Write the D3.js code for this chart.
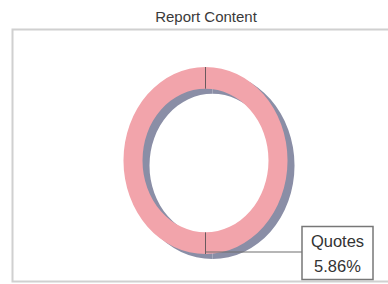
<!DOCTYPE html>
<html>
<head>
<meta charset="utf-8">
<script src="https://cdn.jsdelivr.net/npm/d3@7"></script>
<style>
  body { margin: 0; background: #fff; overflow: hidden; }
  svg { display: block; font-family: "Liberation Sans", Arial, sans-serif; }
</style>
</head>
<body>
<div id="chart"></div>
<script>
// slices as drawn in the picture (boundaries at 12 and 6 o'clock)
var sliceNames = ["Quotes", "Other"];
var sliceValues = [50, 50];
var labelLines = ["Quotes", "5.86%"];
var chartTitle = "Report Content";

var width = 388, height = 284;

var svg = d3.select("#chart").append("svg")
    .attr("width", width)
    .attr("height", height);

// title + frame (frame runs off the right edge)
svg.append("text")
    .attr("x", 206).attr("y", 22)
    .attr("text-anchor", "middle")
    .style("font-size", "15px")
    .style("fill", "#3a3a3a")
    .text(chartTitle);

svg.append("rect")
    .attr("x", 12.5).attr("y", 29.5)
    .attr("width", 400).attr("height", 252)
    .attr("fill", "none")
    .attr("stroke", "#d0d0d0")
    .attr("stroke-width", 2);

// ring geometry (ellipse: drawn as a circle then stretched vertically)
var cx = 205.5, cy = 160.5, rx = 82, ry = 93.5, thick = 19;
var yScale = ry / rx;

var pie = d3.pie().sort(null).value(function(d) { return d; });
var arcs = pie(sliceValues);
var arc = d3.arc().innerRadius(rx - thick).outerRadius(rx);

// depth / shadow
svg.append("g")
    .attr("transform", "translate(" + (cx + 7) + "," + (cy + 5) + ") scale(1," + yScale + ")")
  .selectAll("path")
  .data(arcs)
  .join("path")
    .attr("d", arc)
    .attr("fill", "#8a8ea6");

// front face
var front = svg.append("g")
    .attr("transform", "translate(" + cx + "," + cy + ") scale(1," + yScale + ")");

front.selectAll("path")
  .data(arcs)
  .join("path")
    .attr("d", arc)
    .attr("fill", "#f2a4ab");

// slice boundaries
front.selectAll("line")
  .data(arcs)
  .join("line")
    .attr("x1", function(d) { return Math.sin(d.startAngle) * (rx - thick); })
    .attr("y1", function(d) { return -Math.cos(d.startAngle) * (rx - thick); })
    .attr("x2", function(d) { return Math.sin(d.startAngle) * rx; })
    .attr("y2", function(d) { return -Math.cos(d.startAngle) * rx; })
    .attr("stroke", "#6a5a5e")
    .attr("stroke-width", 1)
    .attr("vector-effect", "non-scaling-stroke");

// leader line + label box
var anchorAngle = arcs[1].startAngle;
var ax = cx + Math.sin(anchorAngle) * rx;
var ay = cy - Math.cos(anchorAngle) * rx * yScale - 2;
var boxX = 302, boxY = 226.5, boxW = 71, boxH = 53;

svg.append("path")
    .attr("d", "M" + ax + "," + ay + "H" + boxX)
    .attr("fill", "none")
    .attr("stroke", "#6e6e6e")
    .attr("stroke-width", 1.2);

svg.append("rect")
    .attr("x", boxX).attr("y", boxY)
    .attr("width", boxW).attr("height", boxH)
    .attr("fill", "#fff")
    .attr("stroke", "#777")
    .attr("stroke-width", 1.5);

svg.append("g").selectAll("text")
  .data(labelLines)
  .join("text")
    .attr("x", boxX + boxW / 2)
    .attr("y", function(d, i) { return boxY + 20.5 + i * 25; })
    .attr("text-anchor", "middle")
    .style("font-size", "16.5px")
    .style("fill", "#333")
    .text(function(d) { return d; });
</script>
</body>
</html>
